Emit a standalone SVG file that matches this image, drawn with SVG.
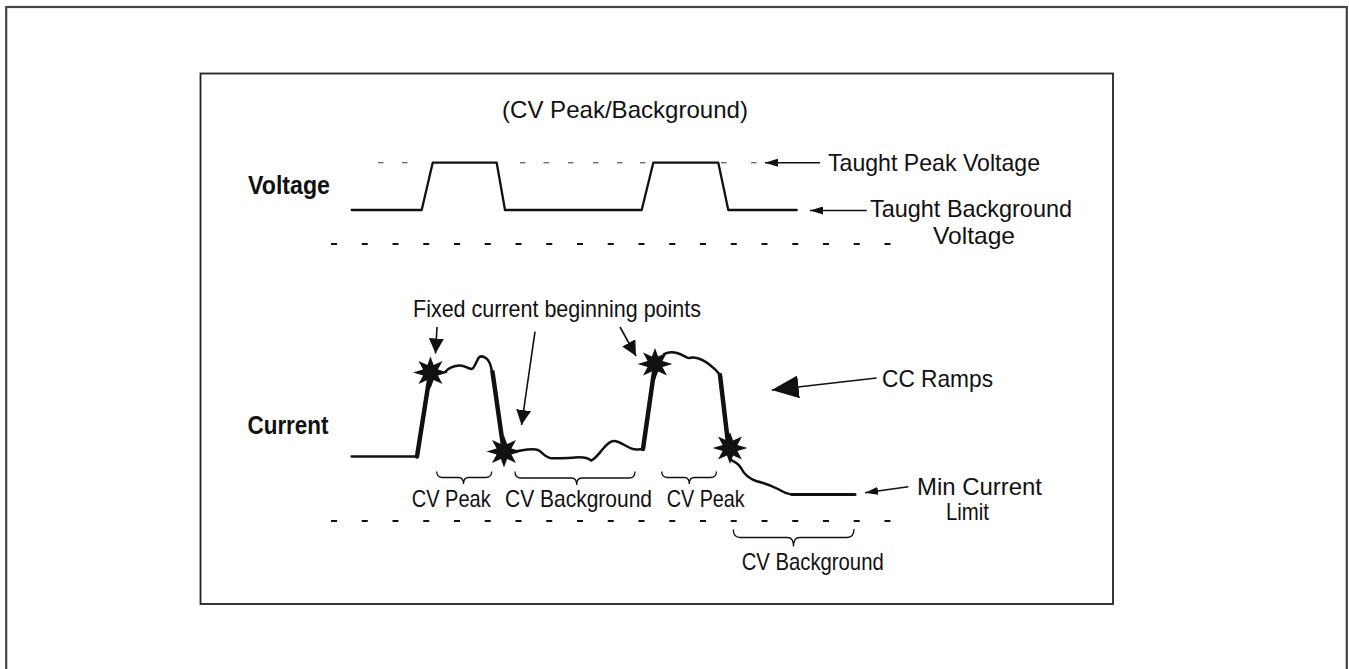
<svg xmlns="http://www.w3.org/2000/svg" xmlns:xlink="http://www.w3.org/1999/xlink" width="1349" height="669" viewBox="0 0 1349 669">
<style>
.t{font-family:"Liberation Sans",Arial,sans-serif;font-size:24px;fill:#111}
.b{font-family:"Liberation Sans",Arial,sans-serif;font-size:25px;font-weight:bold;fill:#111}
.w{fill:none;stroke:#111;stroke-linejoin:round;stroke-linecap:round}
.thin{stroke-width:2.3}
.thick{stroke-width:4.5}
.mid{stroke-width:2.5}
.brace{fill:none;stroke:#111;stroke-width:1.3}
.grid{stroke:#111;stroke-width:1.8;stroke-dasharray:6 24.75}
.gdash{stroke:#666;stroke-width:1.3}
.conn{fill:none;stroke:#111;stroke-width:1.6}
</style>
<defs>
<marker id="arrS" markerUnits="userSpaceOnUse" markerWidth="14" markerHeight="8" refX="13" refY="4" orient="auto"><path d="M0,0 L13,4 L0,8 z" fill="#111"/></marker>
<marker id="arrM" markerUnits="userSpaceOnUse" markerWidth="16" markerHeight="15" refX="15" refY="7.5" orient="auto"><path d="M0,0 L15,7.5 L0,15 z" fill="#111"/></marker>
<marker id="arrL" markerUnits="userSpaceOnUse" markerWidth="28" markerHeight="23" refX="27" refY="11.5" orient="auto"><path d="M0,0 L27,11.5 L0,23 z" fill="#111"/></marker>
<polygon id="star" fill="#111" points="17.5,0 7.4,3.1 12,11.5 3.1,7.4 0,16 -3.1,7.4 -12,11.5 -7.4,3.1 -17.5,0 -7.4,-3.1 -12,-11.5 -3.1,-7.4 0,-16 3.1,-7.4 12,-11.5 7.4,-3.1"/>
</defs>
<rect x="0" y="0" width="1349" height="669" fill="#fff"/>
<g id="frame">
<rect x="6.2" y="7" width="1340.6" height="700" fill="none" stroke="#444" stroke-width="2.2"/>
<rect x="200.5" y="73.5" width="912.5" height="530.5" fill="none" stroke="#222" stroke-width="1.8"/>
</g>
<g id="title"><text class="t" x="502" y="118" textLength="246" lengthAdjust="spacingAndGlyphs">(CV Peak/Background)</text></g>
<g id="voltage-label"><text class="b" x="248" y="194" textLength="82" lengthAdjust="spacingAndGlyphs">Voltage</text></g>
<g id="current-label"><text class="b" x="247.5" y="433.5" textLength="81" lengthAdjust="spacingAndGlyphs">Current</text></g>
<g id="voltage-axes">
<line class="grid" x1="331" y1="244" x2="892" y2="244"/>
<g class="gdash">
<line x1="378" y1="162.7" x2="383.5" y2="162.7"/>
<line x1="402" y1="162.7" x2="407.5" y2="162.7"/>
<line x1="520" y1="162.7" x2="525.5" y2="162.7"/>
<line x1="543.5" y1="162.7" x2="549" y2="162.7"/>
<line x1="568" y1="162.7" x2="573.5" y2="162.7"/>
<line x1="593" y1="162.7" x2="598.5" y2="162.7"/>
<line x1="617" y1="162.7" x2="622.5" y2="162.7"/>
<line x1="640" y1="162.7" x2="645.5" y2="162.7"/>
<line x1="721" y1="162.7" x2="726.5" y2="162.7"/>
<line x1="751" y1="162.7" x2="756.5" y2="162.7"/>
</g>
</g>
<g id="voltage-wave">
<polyline class="w thin" points="351.7,210 421.7,210 432.7,162.7 496.7,162.7 505,210 641.7,210 653.3,162.7 718.3,162.7 728.3,210 796.7,210"/>
</g>
<g id="current-axis"><line class="grid" x1="331" y1="521" x2="892" y2="521"/></g>
<g id="current-wave">
<path class="w thin" d="M351.5,456.5 L417,456.5"/>
<path class="w thick" d="M417,456.5 L430,374"/>
<path class="w mid" d="M445,372 C449,367 453,366 459,365.5 C464,365 467,368 471.5,369 C474,369 476,362 478.5,358 C480,356 483,356 486.5,358.5 C490,361 491,366 492,372"/>
<path class="w thick" d="M492.5,372 L503.5,449"/>
<path class="w mid" d="M515,451.5 C525,450 532,448 538,450 C542,452 545,457 550,458 C556,459 565,458 575,457.5 C582,457 587,457 591,460.5 C594,460 597,456 602,450 C606,445 610,441 614,441 C620,441 626,447 633,449 C637,450 640,449 643,449"/>
<path class="w thick" d="M643,449 L655,365"/>
<path class="w mid" d="M664,354 C668,352 673,352 677,353 C681,354 684,356 687,357.5 C689,359 691,357 694,357.5 C699,358 705,361 710,365 C714,368 717,371 720,375"/>
<path class="w thick" d="M720,375 L728.5,447"/>
<path class="w mid" d="M731,460 C735,462 738,463 741,468 C744,474 748,478 756,481 C764,483 772,486 778,489 C783,492 787,494 792,494.5"/>
<path class="w" stroke-width="3" d="M792,494.5 L855,494.5"/>
<use xlink:href="#star" x="430.5" y="372.5"/>
<use xlink:href="#star" x="504" y="451.5"/>
<use xlink:href="#star" x="655" y="364"/>
<use xlink:href="#star" x="730" y="448"/>
</g>
<g id="braces">
<path class="brace" d="M436.7,471.5 Q436.7,477.5 442.7,477.5 L458.5,477.5 Q463.5,477.5 463.5,484 Q463.5,477.5 468.5,477.5 L485.7,477.5 Q491.7,477.5 491.7,471.5"/>
<path class="brace" d="M515,471.5 Q515,478 521,478 L571.7,478 Q576.7,478 576.7,485 Q576.7,478 581.7,478 L629,478 Q635,478 635,471.5"/>
<path class="brace" d="M661.7,471.5 Q661.7,477.5 667.7,477.5 L684.3,477.5 Q689.3,477.5 689.3,484 Q689.3,477.5 694.3,477.5 L710.5,477.5 Q716.5,477.5 716.5,471.5"/>
<path class="brace" d="M733.3,529.5 Q733.3,537.5 740.3,537.5 L787.5,537.5 Q793.5,537.5 793.5,546.5 Q793.5,537.5 799.5,537.5 L847,537.5 Q854,537.5 854,529"/>
</g>
<g id="labels">
<text class="t" x="828" y="171" textLength="212" lengthAdjust="spacingAndGlyphs">Taught Peak Voltage</text>
<text class="t" x="870" y="216.5" textLength="202" lengthAdjust="spacingAndGlyphs">Taught Background</text>
<text class="t" x="933" y="243.5" textLength="82" lengthAdjust="spacingAndGlyphs">Voltage</text>
<text class="t" x="413" y="316.5" textLength="288" lengthAdjust="spacingAndGlyphs">Fixed current beginning points</text>
<text class="t" x="882" y="387" textLength="111" lengthAdjust="spacingAndGlyphs">CC Ramps</text>
<text class="t" x="411.7" y="507" textLength="79" lengthAdjust="spacingAndGlyphs">CV Peak</text>
<text class="t" x="505" y="507" textLength="147" lengthAdjust="spacingAndGlyphs">CV Background</text>
<text class="t" x="666.7" y="507" textLength="78" lengthAdjust="spacingAndGlyphs">CV Peak</text>
<text class="t" x="917" y="495" textLength="125" lengthAdjust="spacingAndGlyphs">Min Current</text>
<text class="t" x="946" y="519.5" textLength="43" lengthAdjust="spacingAndGlyphs">Limit</text>
<text class="t" x="741.7" y="570" textLength="142" lengthAdjust="spacingAndGlyphs">CV Background</text>
</g>
<g id="connectors">
<line class="conn" x1="820" y1="162.7" x2="765" y2="162.7" marker-end="url(#arrS)"/>
<line class="conn" x1="866.7" y1="210.5" x2="810" y2="210.5" marker-end="url(#arrS)"/>
<line class="conn" x1="437" y1="327" x2="435.5" y2="353.5" marker-end="url(#arrM)"/>
<line class="conn" x1="535" y1="331.7" x2="521.5" y2="425" marker-end="url(#arrM)"/>
<line class="conn" x1="620" y1="327" x2="636" y2="356" marker-end="url(#arrM)"/>
<line class="conn" x1="876.5" y1="378" x2="771.7" y2="390" marker-end="url(#arrL)"/>
<line class="conn" x1="908.3" y1="486.7" x2="865" y2="492.7" marker-end="url(#arrS)"/>
</g>
</svg>
